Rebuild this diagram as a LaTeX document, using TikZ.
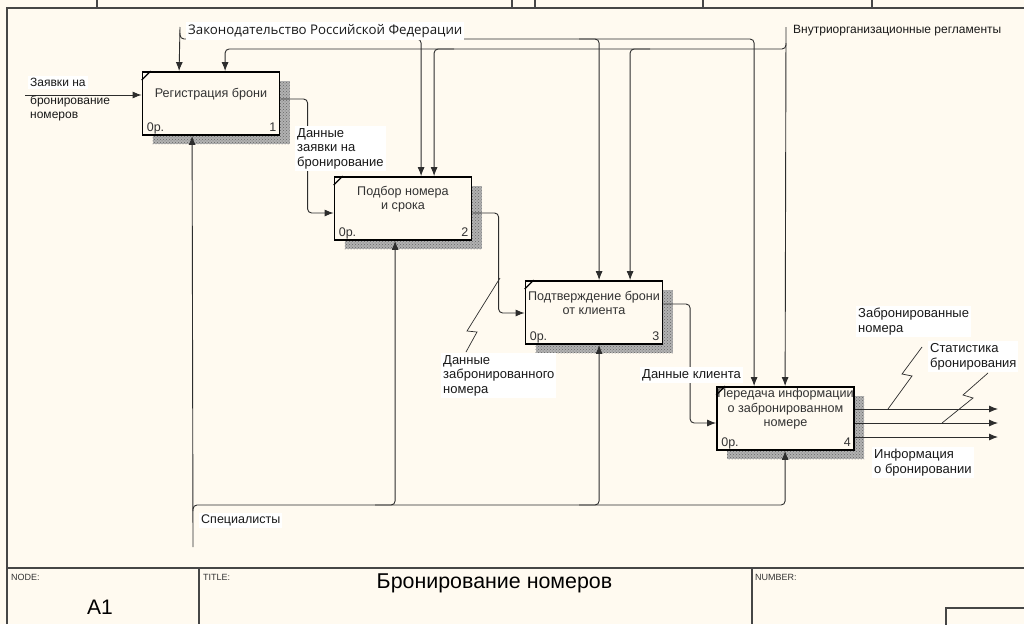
\documentclass[tikz,border=0pt]{standalone}
\usepackage{fontspec}
\setmainfont{Liberation Sans}
\newfontfamily\segoe{Open Sans}
\usetikzlibrary{arrows.meta,patterns,calc}
\definecolor{bgc}{RGB}{255,250,240}
\definecolor{lnc}{RGB}{45,45,45}
\definecolor{frc}{RGB}{70,70,70}
\newcommand\mkbox[5]{%
  \fill[gray!60] (#2-68.5+10,#3-31.5+9) rectangle (#2+68.5+10,#3+31.5+9);
  \fill[pattern=crosshatch dots, pattern color=black!60] (#2-68.5+10,#3-31.5+9) rectangle (#2+68.5+10,#3+31.5+9);
  \node[fnbox] (#1) at (#2,#3) {};
  \node[boxtext] (#1t) at ($(#1.north)+(0,23)$) {#4};
  \node[boxsmall, anchor=base west] (#1o) at ($(#1.south west)+(5,-4)$) {0р.};
  \node[boxsmall, anchor=base east] (#1n) at ($(#1.south east)+(-4,-4)$) {#5};
  \draw[line width=1.3pt] ($(#1.north west)+(0,9)$) -- ($(#1.north west)+(9,0)$);
}
\begin{document}
\begin{tikzpicture}[x=1pt,y=-1pt,
  conn/.style={draw=lnc, line width=0.9pt, rounded corners=4pt},
  arr/.style={conn,-{Latex[length=9pt,width=7pt]}},
  squig/.style={draw=lnc, line width=0.7pt},
  fnbox/.style={draw=black, line width=1.8pt, fill=bgc, minimum width=137pt, minimum height=63pt, inner sep=0pt, rectangle},
  boxtext/.style={align=center, inner sep=0pt, text=black!80, font=\fontsize{12.6}{14.5}\selectfont},
  boxsmall/.style={inner sep=0pt, text=black!80, font=\fontsize{12.5}{14.5}\selectfont},
  lbl/.style={fill=white, inner sep=2pt, anchor=north west, align=left, text=black!90, font=\fontsize{13}{14.8}\selectfont},
  lblnf/.style={lbl, fill=none},
  frame/.style={draw=frc, line width=1.1pt},
  small/.style={inner sep=0pt, anchor=west, text=black!80, font=\fontsize{9}{10}\selectfont}
]
\useasboundingbox (0,0) rectangle (1024,624);
\fill[bgc] (0,0) rectangle (1024,624);

% frame
\draw[frame] (7,624) -- (7,8) -- (1024,8);
\foreach \tx in {97,512,535,703,872} \draw[frame] (\tx,0) -- (\tx,8);
\draw[frame] (7,568) -- (1024,568);
\draw[frame] (199,568) -- (199,624);
\draw[frame] (752,568) -- (752,624);
\draw[frame] (946,630) -- (946,608) -- (1030,608);
\node[small] (nodelbl) at (11,577) {NODE:};
\node[small] (titlelbl) at (203,577) {TITLE:};
\node[small] (numlbl) at (755,577) {NUMBER:};
\node[inner sep=0pt, font=\fontsize{21}{23}\selectfont] (a1) at (100,607) {A1};
\node[inner sep=0pt, font=\fontsize{21.4}{23}\selectfont] (title) at (494.5,583) {Бронирование номеров};

% boxes
\mkbox{b1}{211}{103.5}{Регистрация брони}{1}
\mkbox{b2}{403}{208.5}{Подбор номера\\и срока}{2}
\mkbox{b3}{594}{312.5}{Подтверждение брони\\от клиента}{3}
\mkbox{b4}{785.5}{418.5}{Передача информации\\о забронированном\\номере}{4}

% anchor points
\coordinate (zakon) at (180,27);
\coordinate (vnutr) at (786,27);
\coordinate (spec) at (193,547);
\coordinate (inp) at (25,95);
\coordinate (zb) at (0,39);
\coordinate (vb) at (0,49);
\coordinate (sb) at (0,505);
\coordinate (b1z) at ($(b1.north west)+(37.5,0)$);
\coordinate (b1v) at ($(b1.north west)+(83.5,0)$);
\coordinate (b1m) at ($(b1.south west)+(50.5,0)$);
\coordinate (b2z) at ($(b2.north west)+(87.5,0)$);
\coordinate (b2v) at ($(b2.north west)+(100.5,0)$);
\coordinate (b2m) at ($(b2.south west)+(61.5,0)$);
\coordinate (b3z) at ($(b3.north west)+(74.5,0)$);
\coordinate (b3v) at ($(b3.north west)+(105.5,0)$);
\coordinate (b3m) at ($(b3.south west)+(74.5,0)$);
\coordinate (b4z) at ($(b4.north west)+(38,0)$);
\coordinate (b4v) at ($(b4.north west)+(69,0)$);
\coordinate (b4m) at ($(b4.south west)+(69,0)$);
\coordinate (o1) at (998,409);
\coordinate (o2) at (998,423);
\coordinate (o3) at (998,437);

% controls
\draw[arr] (zakon) -- (b1z);
\draw[arr] ($(zakon)+(0,6)$) |- (b4z |- zb) -- (b4z);
\draw[arr] ($(b2z |- zb)+(-20,0)$) -| (b2z);
\draw[arr] ($(b3z |- zb)+(-20,0)$) -| (b3z);
\draw[arr] (vnutr) -- (b4v);
\draw[arr] ($(vnutr)+(0,16)$) |- (b1v |- vb) -- (b1v);
\draw[arr] ($(b2v |- vb)+(20,0)$) -| (b2v);
\draw[arr] ($(b3v |- vb)+(20,0)$) -| (b3v);

% mechanisms
\draw[arr] (spec) -- (b1m);
\draw[arr] ($(spec)+(0,-36)$) |- (b4m |- sb) -- (b4m);
\draw[arr] ($(b2m |- sb)+(-20,0)$) -| (b2m);
\draw[arr] ($(b3m |- sb)+(-20,0)$) -| (b3m);

% input
\draw[arr] (inp) -- (inp -| b1.west);

% flows between boxes
\draw[arr] ($(b1.east)+(0,-4.5)$) -| ($(b2.west)+(-26,4.5)$) -- ($(b2.west)+(0,4.5)$);
\draw[arr] ($(b2.east)+(0,4.5)$) -| ($(b3.west)+(-26,0.5)$) -- ($(b3.west)+(0,0.5)$);
\draw[arr] ($(b3.east)+(0,-8.5)$) -| ($(b4.west)+(-26,4.5)$) -- ($(b4.west)+(0,4.5)$);

% outputs
\draw[arr] (b4.east |- o1) -- (o1);
\draw[arr] (b4.east |- o2) -- (o2);
\draw[arr] (b4.east |- o3) -- (o3);

% squiggles
\draw[squig] (500,278) -- (467,331) -- (477,332) -- (466,352);
\draw[squig] (888,409) -- (912,376) -- (902,374) -- (922,347);
\draw[squig] (942,423) -- (973,398) -- (963,395) -- (988,373);

% labels
\node[lbl, anchor=west, font=\segoe\fontsize{13.3}{15}\selectfont] (lzakon) at (186,31) {Законодательство Российской Федерации};
\node[lblnf, anchor=west, font=\fontsize{12}{13}\selectfont] (lvnutr) at (791,31) {Внутриорганизационные регламенты};
\node[lbl, font=\fontsize{12}{14}\selectfont] (lin1) at (28,76) {Заявки на};
\node[lblnf, font=\fontsize{12}{14.5}\selectfont] (lin2) at (28,93) {бронирование\\номеров};
\node[lbl] (l12) at (295,126) {Данные\\заявки на\\бронирование};
\node[lbl] (l23) at (441,353) {Данные\\забронированного\\номера};
\node[lbl] (l34) at (640,367) {Данные клиента};
\node[lbl] (lo1) at (856,306) {Забронированные\\номера};
\node[lbl] (lo2) at (928,341) {Статистика\\бронирования};
\node[lbl] (lo3) at (872,447) {Информация\\о бронировании};
\node[lbl, font=\fontsize{12.5}{14}\selectfont] (lspec) at (199,513) {Специалисты};
\end{tikzpicture}
\end{document}
